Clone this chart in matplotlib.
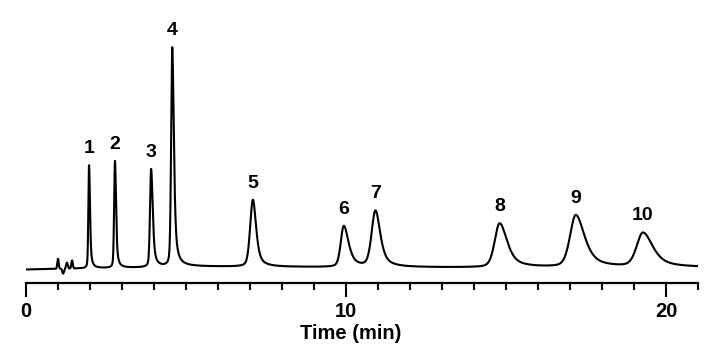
import numpy as np
import matplotlib
matplotlib.use("Agg")
import matplotlib.pyplot as plt
from matplotlib.ticker import MultipleLocator

# ---- data ----
peak_labels = ["1", "2", "3", "4", "5", "6", "7", "8", "9", "10"]
peak_times = [1.97, 2.78, 3.91, 4.57, 7.09, 9.93, 10.92, 14.80, 17.18, 19.28]   # min
peak_heights = [103, 107, 98, 219, 67, 41, 56, 44, 52, 34]                      # detector units
# half widths at half maximum (min), leading / trailing side
peak_hw_left = [0.025, 0.03, 0.04, 0.04, 0.10, 0.11, 0.14, 0.18, 0.21, 0.23]
peak_hw_right = [0.035, 0.04, 0.06, 0.06, 0.12, 0.18, 0.18, 0.28, 0.33, 0.37]
lorentz_left = 0.3      # share of Lorentzian wing on leading side
lorentz_right = 0.7     # share of Lorentzian wing on trailing side

# early injection disturbance
noise_times = [1.00, 1.16, 1.28, 1.44]
noise_heights = [10, -5, 6, 8]
noise_widths = [0.022, 0.025, 0.025, 0.022]

# slight baseline drift
baseline_times = [0.0, 1.5, 3.0, 5.0, 8.0, 12.0, 21.0]
baseline_levels = [-1.5, -0.5, 0.0, 1.5, 1.0, 0.5, 0.5]

x_ticks_major = [0, 10, 20]
x_label = "Time (min)"


def pv(d, w, eta):
    r = (d / w) ** 2
    return eta / (1.0 + r) + (1.0 - eta) * np.exp(-np.log(2.0) * r)


# ---- build trace ----
t = np.arange(0.0, 21.0 + 1e-9, 0.002)
signal = np.interp(t, baseline_times, baseline_levels)
for tr, h, wl, wr in zip(peak_times, peak_heights, peak_hw_left, peak_hw_right):
    d = t - tr
    shape = np.where(d < 0, pv(d, wl, lorentz_left), pv(d, wr, lorentz_right))
    signal = signal + h * shape
for tn, hn, wn in zip(noise_times, noise_heights, noise_widths):
    signal = signal + hn * np.exp(-0.5 * ((t - tn) / wn) ** 2)

# ---- figure ----
W, H = 727, 356
fig = plt.figure(figsize=(W / 100, H / 100), dpi=100)
ax = fig.add_axes([26 / W, (H - 283) / H, 672 / W, 283 / H])
ax.plot(t, signal, color="black", lw=1.5, solid_joinstyle="round")
ax.set_xlim(0, 21)
ax.set_ylim(-15, 268)

for sp in ["top", "left", "right"]:
    ax.spines[sp].set_visible(False)
ax.spines["bottom"].set_linewidth(1.6)
ax.set_yticks([])
ax.set_xticks(x_ticks_major)
ax.xaxis.set_minor_locator(MultipleLocator(1))
ax.tick_params(axis="x", which="major", direction="out", length=10, width=1.5, pad=3.5)
ax.tick_params(axis="x", which="minor", direction="out", length=5, width=1.5)

fam = ["Liberation Sans", "DejaVu Sans"]
for lbl in ax.get_xticklabels():
    lbl.set_fontsize(14.5)
    lbl.set_fontfamily(fam)
    lbl.set_fontweight("bold")

ax.set_xlabel(x_label, fontsize=14.5, family=fam, weight="bold")
ax.xaxis.set_label_coords(0.483, -0.145)

for lab, tr in zip(peak_labels, peak_times):
    mask = np.abs(t - tr) < 0.15
    top = signal[mask].max()
    ax.text(tr, top + 12, lab, ha="center", va="baseline", fontsize=14,
            family=fam, weight="bold")

fig.savefig("out.png", dpi=100)
